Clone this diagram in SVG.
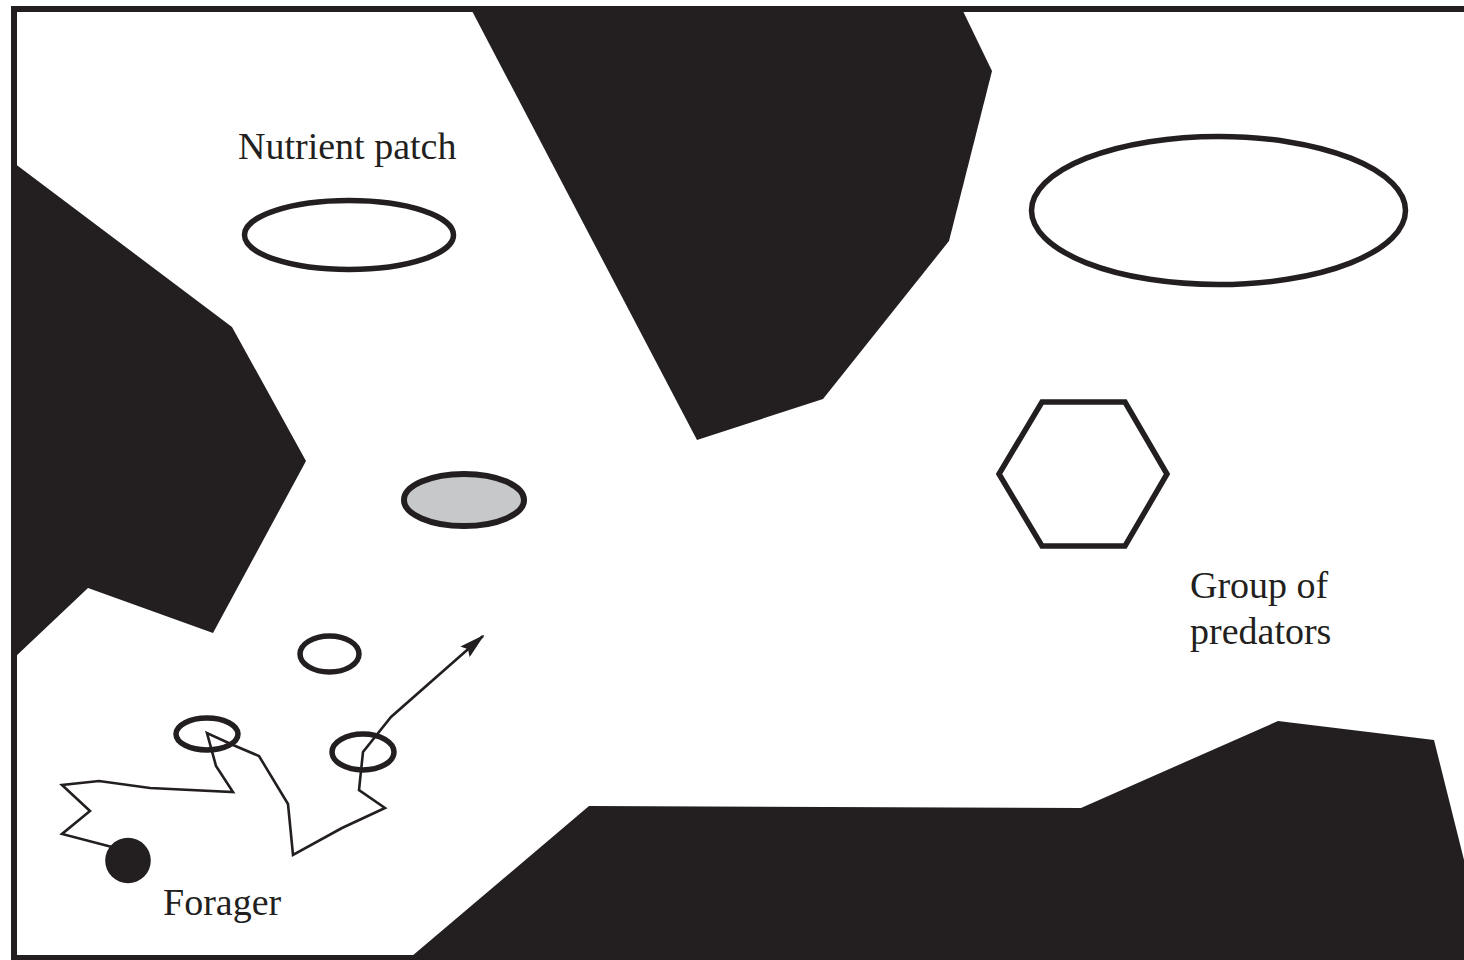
<svg xmlns="http://www.w3.org/2000/svg" width="1464" height="960" viewBox="0 0 1464 960">
  <defs>
    <style>
      .terrain { fill: #231f20; stroke: none; }
      .ring { fill: none; stroke: #231f20; stroke-width: 5.5; }
      .label { font-family: "Liberation Serif", "Times New Roman", serif; font-size: 38px; fill: #231f20; }
      .track { fill: none; stroke: #231f20; stroke-width: 2.6; stroke-linejoin: miter; }
    </style>
    <marker id="arrow" viewBox="0 0 26 14" refX="24" refY="7" markerWidth="26" markerHeight="14" markerUnits="userSpaceOnUse" orient="auto">
      <path d="M0,0 L26,7 L0,14 L4,7 Z" fill="#231f20"/>
    </marker>
  </defs>

  <rect x="0" y="0" width="1464" height="960" fill="#ffffff"/>

  <g id="terrain">
    <polygon class="terrain" points="14,163 232,327 306,461 213,633 88,588 14,658"/>
    <polygon class="terrain" points="471,9 962,9 992,71 949,241 823,399 697,440"/>
    <polygon class="terrain" points="405,962 589,806 1081,808 1278,721 1434,740 1466,868 1466,962"/>
  </g>

  <rect id="frame" x="14" y="9" width="1470" height="949" fill="none" stroke="#231f20" stroke-width="6"/>

  <g id="nutrient-patch">
    <ellipse class="ring" cx="349" cy="235" rx="104.5" ry="34.5"/>
    <text class="label" x="238" y="159">Nutrient patch</text>
  </g>

  <g id="large-patch">
    <ellipse class="ring" cx="1218.5" cy="210.5" rx="187" ry="74"/>
  </g>

  <g id="grey-patch">
    <ellipse cx="464" cy="500" rx="60" ry="26" fill="#c7c8ca" stroke="#231f20" stroke-width="6"/>
  </g>

  <g id="small-patch-1">
    <ellipse class="ring" cx="329.5" cy="654" rx="29.5" ry="18" stroke-width="6"/>
  </g>
  <g id="small-patch-2">
    <ellipse class="ring" cx="207" cy="734" rx="31" ry="16" stroke-width="6"/>
  </g>
  <g id="small-patch-3">
    <ellipse class="ring" cx="363" cy="752" rx="31" ry="18" stroke-width="6"/>
  </g>

  <g id="predators">
    <polygon class="ring" points="1042,402 1125,402 1167,474 1125,546 1042,546 999,474"/>
    <text class="label" x="1190" y="598">Group of</text>
    <text class="label" x="1190" y="644">predators</text>
  </g>

  <g id="forager">
    <circle cx="128" cy="860.5" r="22.8" fill="#231f20"/>
    <text class="label" x="163" y="915">Forager</text>
  </g>

  <g id="connectors">
    <polyline class="track" marker-end="url(#arrow)" points="112,847 62,834 90,811 62,785 99,781 150,788 233,792 216,766 207,733 233,745 259,756 288,804 293,855 342,828 385,808 359,790 363,752 391,717 483,636"/>
  </g>
</svg>
